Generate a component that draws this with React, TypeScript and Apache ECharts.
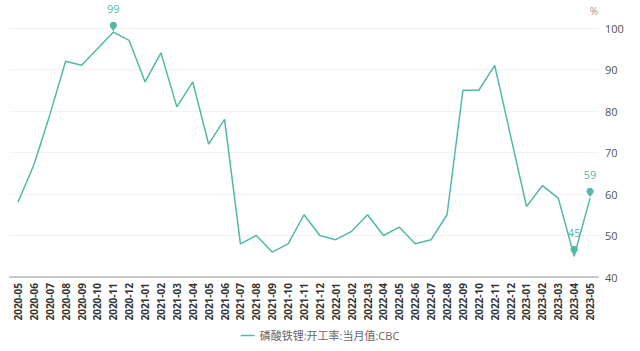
import React, { useEffect, useRef } from "react";
import * as echarts from "echarts";

const categories = [
  "2020-05","2020-06","2020-07","2020-08","2020-09","2020-10","2020-11","2020-12",
  "2021-01","2021-02","2021-03","2021-04","2021-05","2021-06","2021-07","2021-08","2021-09","2021-10","2021-11","2021-12",
  "2022-01","2022-02","2022-03","2022-04","2022-05","2022-06","2022-07","2022-08","2022-09","2022-10","2022-11","2022-12",
  "2023-01","2023-02","2023-03","2023-04","2023-05",
];
const values = [
  58, 67, 79, 92, 91, 95, 99, 97,
  87, 94, 81, 87, 72, 78, 48, 50, 46, 48, 55, 50,
  49, 51, 55, 50, 52, 48, 49, 55, 85, 85, 91, 74,
  57, 62, 59, 45, 59,
];
const seriesName = "磷酸铁锂:开工率:当月值:CBC";
const yTicks = { min: 40, max: 100, interval: 10 };

const COLOR = "#52b9a7";
const FONT = "'Open Sans', 'Noto Sans CJK SC', sans-serif";

export default function App() {
  const ref = useRef<HTMLDivElement>(null);
  useEffect(() => {
    if (!ref.current) return;
    const chart = echarts.init(ref.current, undefined, { renderer: "svg" });
    const lastIdx = values.length - 1;
    chart.setOption({
      animation: false,
      textStyle: { fontFamily: FONT },
      grid: { left: 10, right: 42, top: 28, bottom: 74 },
      legend: {
        bottom: 5,
        left: "center",
        icon: "path://M0,0 L14,0 L14,1.5 L0,1.5 Z",
        itemWidth: 14,
        itemHeight: 2,
        itemGap: 6,
        textStyle: { color: "#666", fontSize: 11, fontFamily: FONT },
        data: [seriesName],
      },
      xAxis: {
        type: "category",
        data: categories,
        boundaryGap: true,
        axisLine: { lineStyle: { color: "#c8c8c8", width: 2 } },
        axisTick: { show: false },
        axisLabel: {
          rotate: 90,
          interval: 0,
          color: "#333",
          fontSize: 10,
          fontWeight: "bold",
          margin: 6,
          fontFamily: FONT,
        },
      },
      yAxis: {
        type: "value",
        position: "right",
        min: yTicks.min,
        max: yTicks.max,
        interval: yTicks.interval,
        name: "%",
        nameGap: 12,
        nameTextStyle: { color: "#999", fontSize: 10, align: "right" },
        axisLine: { show: false },
        axisTick: { show: false },
        axisLabel: { color: "#555", fontSize: 11, margin: 7 },
        splitLine: { lineStyle: { color: "#f2f2f2", width: 1 } },
      },
      series: [
        {
          name: seriesName,
          type: "line",
          data: values,
          symbol: "none",
          lineStyle: { color: COLOR, width: 1.5 },
          itemStyle: { color: COLOR },
          markPoint: {
            symbol: "pin",
            symbolSize: 12,
            symbolOffset: [0, 0],
            itemStyle: { color: COLOR },
            label: {
              show: true,
              position: "top",
              distance: 8,
              color: COLOR,
              fontSize: 11,
            },
            data: [
              { type: "max", name: "max" },
              { type: "min", name: "min" },
              { name: "last", coord: [categories[lastIdx], values[lastIdx]], value: values[lastIdx] },
            ],
          },
        },
      ],
    });
    return () => chart.dispose();
  }, []);
  return (
    <div
      ref={ref}
      style={{ position: "absolute", left: 0, top: 0, width: 640, height: 351 }}
    />
  );
}
